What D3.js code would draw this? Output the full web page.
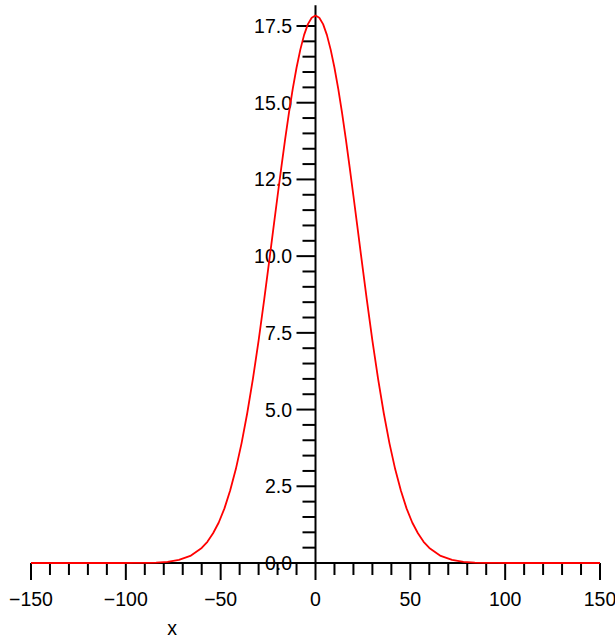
<!DOCTYPE html>
<html>
<head>
<meta charset="utf-8">
<script src="https://cdn.jsdelivr.net/npm/d3@7"></script>
<style>
  html, body { margin: 0; padding: 0; background: #fff; }
  svg { display: block; }
</style>
</head>
<body>
<svg id="chart" width="615" height="641"></svg>
<script>
// ---- data ----
const xValues = [-150,-144,-138,-132,-126,-120,-114,-108,-102,-96,-90,-84,-78,-72,-66,-60,-57,-54,-51,-48,-45,-42,-39,-36,-33,-30,-27,
                 -24,-22,-20,-18,-16,-14,-12,-10,-8,-6,-4,-2,0,2,4,6,8,10,12,14,16,18,20,22,24,
                 27,30,33,36,39,42,45,48,51,54,57,60,66,72,78,84,90,96,102,108,114,120,126,132,138,144,150];
const yValues = [0,0,0,0,0,0,0,0,0,0.001,0.005,0.015,0.04,0.10,0.23,0.49,0.69,0.97,1.32,1.78,2.36,3.06,3.90,4.88,6.00,7.25,8.61,
                 10.03,11.00,11.96,12.90,13.81,14.67,15.45,16.14,16.73,17.21,17.56,17.77,17.84,17.77,17.56,17.21,16.73,16.14,15.45,14.67,13.81,12.90,11.96,11.00,10.03,
                 8.61,7.25,6.00,4.88,3.90,3.06,2.36,1.78,1.32,0.97,0.69,0.49,0.23,0.10,0.04,0.015,0.005,0.001,0,0,0,0,0,0,0,0,0];
const xMajorTicks = [-150,-100,-50,0,50,100,150];
const xTickLabels = ["\u2212150","\u2212100","\u221250","0","50","100","150"];
const yMajorTicks = [0,2.5,5,7.5,10,12.5,15,17.5];
const yTickLabels = ["0.0","2.5","5.0","7.5","10.0","12.5","15.0","17.5"];
const xLabel = "x";

// ---- layout ----
const svg = d3.select("#chart");
const x = d3.scaleLinear().domain([-150, 150]).range([31, 600]);
const y = d3.scaleLinear().domain([0, 17.5]).range([563, 26]);
const yTop = 18.18;
const font = "'Liberation Sans', Arial, Helvetica, sans-serif";
const fs = 19.5;

const axisG = svg.append("g").attr("stroke", "#000").attr("stroke-width", 2).attr("fill", "none");

// x axis line
axisG.append("line").attr("x1", x(-150)).attr("x2", x(150)).attr("y1", y(0)).attr("y2", y(0));
// x ticks: minor every 10, major every 50
d3.range(-150, 151, 10).forEach(v => {
  const major = v % 50 === 0;
  axisG.append("line")
    .attr("x1", x(v)).attr("x2", x(v))
    .attr("y1", y(0)).attr("y2", y(0) + (major ? 17 : 12));
});

// y axis line
axisG.append("line").attr("x1", x(0)).attr("x2", x(0)).attr("y1", y(0)).attr("y2", y(yTop));
// y ticks: minor every 0.5, major every 2.5
d3.range(0, 36).map(i => i * 0.5).forEach(v => {
  const major = Math.abs(v / 2.5 - Math.round(v / 2.5)) < 1e-9;
  axisG.append("line")
    .attr("x1", x(0)).attr("x2", x(0) - (major ? 19 : 13))
    .attr("y1", y(v)).attr("y2", y(v));
});

// tick labels
const labG = svg.append("g").attr("font-family", font).attr("font-size", fs).attr("fill", "#000");
xMajorTicks.forEach((v, i) => {
  labG.append("text").attr("x", x(v)).attr("y", 606).attr("text-anchor", "middle").text(xTickLabels[i]);
});
yMajorTicks.forEach((v, i) => {
  labG.append("text").attr("x", 292).attr("y", y(v) + 7).attr("text-anchor", "end").text(yTickLabels[i]);
});
labG.append("text").attr("x", 172).attr("y", 635).attr("text-anchor", "middle").text(xLabel);

// curve
const pts = xValues.map((xv, i) => [xv, yValues[i]]);
svg.append("path")
  .datum(pts)
  .attr("fill", "none")
  .attr("stroke", "#ff0000")
  .attr("stroke-width", 1.8)
  .attr("stroke-linejoin", "round")
  .attr("d", d3.line().x(d => x(d[0])).y(d => y(d[1])));
</script>
</body>
</html>
